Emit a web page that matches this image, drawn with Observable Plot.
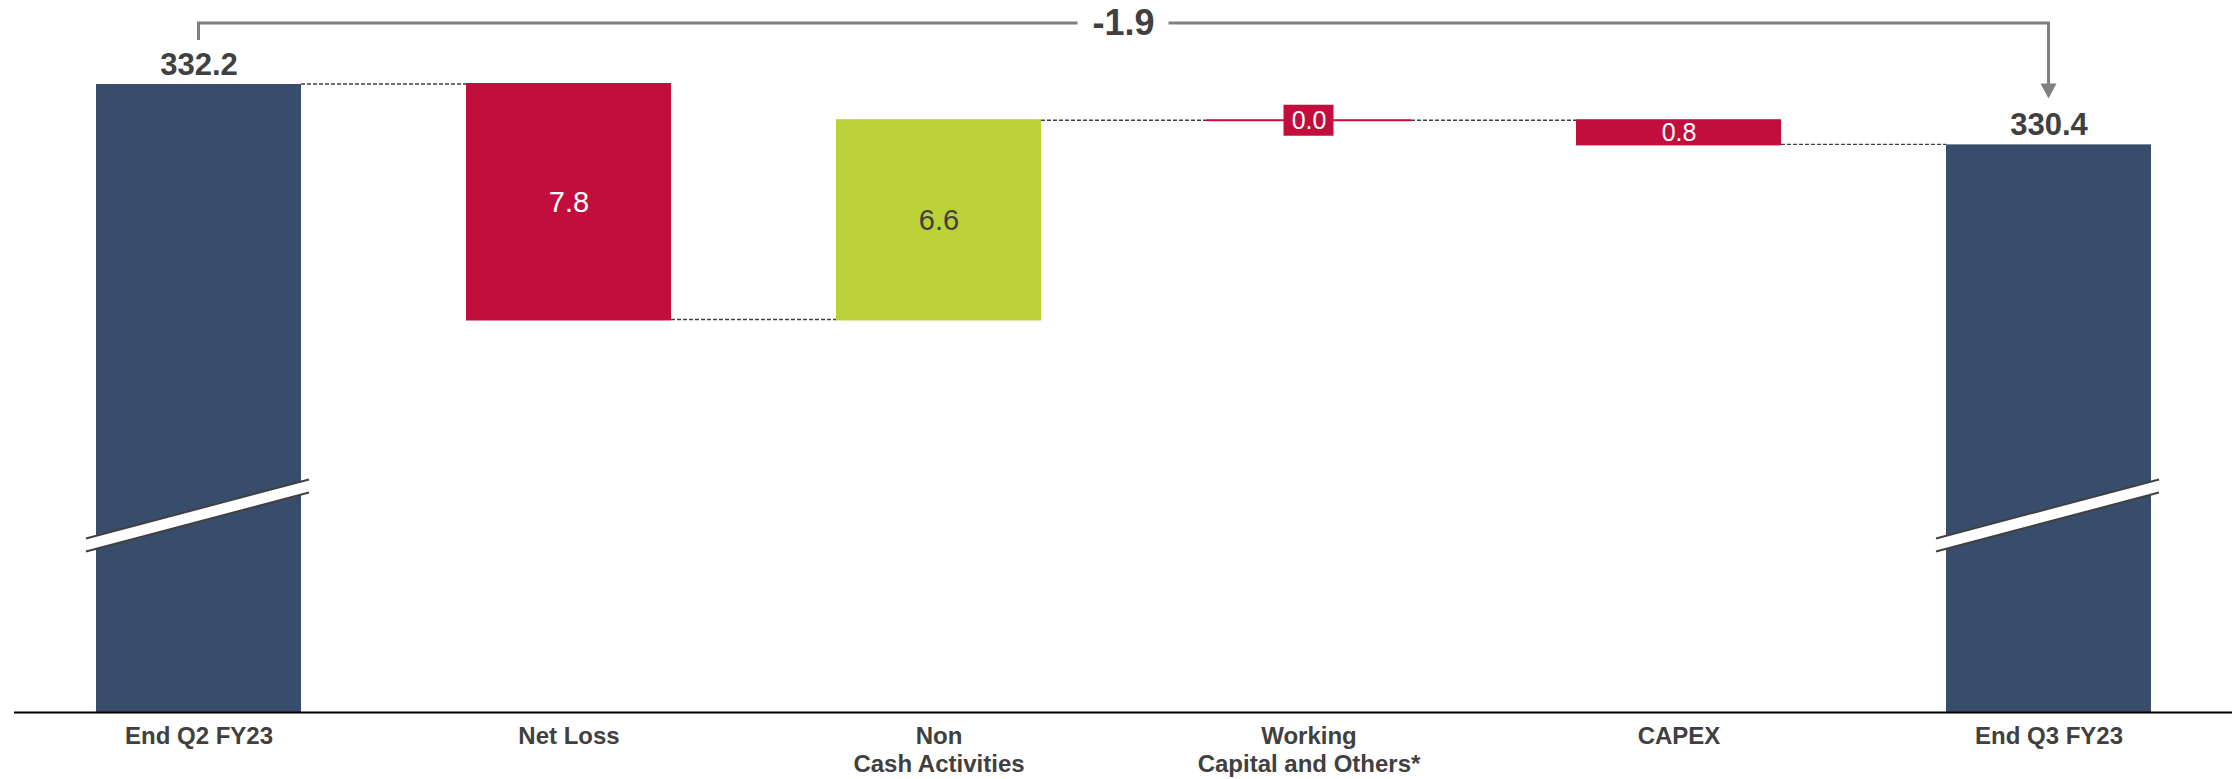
<!DOCTYPE html>
<html><head><meta charset="utf-8">
<script src="https://cdn.jsdelivr.net/npm/d3@7"></script>
<script src="https://cdn.jsdelivr.net/npm/@observablehq/plot@0.6"></script>
<style>html,body{margin:0;padding:0;background:#fff} svg{display:block}</style>
</head><body><div id="chart"></div>
<script>
// ---- data ----
const categories = ["End Q2 FY23", "Net Loss", "Non\nCash Activities", "Working\nCapital and Others*", "CAPEX", "End Q3 FY23"];
const startTotal = 332.2;
const endTotal = 330.4;
const changes = [-7.8, 6.6, 0.0, -0.8];
const netChange = -1.9;
const axisFloor = 311.4; // value at the broken axis baseline

// ---- build waterfall table ----
const FONT = "Liberation Sans, Arial, Helvetica, sans-serif";
const NAVY = "#384D6B", RED = "#C20E3D", GREEN = "#BCD037", TXT = "#404040";
let level = startTotal;
const rows = [{cat: categories[0], y1: axisFloor, y2: startTotal, kind: "total", label: startTotal.toFixed(1)}];
const connectors = [];
let prevCat = categories[0];
changes.forEach((d, i) => {
  const from = level;
  level = Math.round((level + d) * 100) / 100;
  connectors.push({a: prevCat, b: categories[i + 1], y: from});
  rows.push({cat: categories[i + 1], y1: from, y2: level, kind: d > 0 ? "up" : "down",
             label: Math.abs(d).toFixed(1), mid: (from + level) / 2, delta: d});
  prevCat = categories[i + 1];
});
connectors.push({a: prevCat, b: categories[5], y: level});
rows.push({cat: categories[5], y1: axisFloor, y2: level, kind: "total", label: endTotal.toFixed(1)});

const totals = rows.filter(r => r.kind === "total");
const steps = rows.filter(r => r.kind !== "total");

// ---- custom decorations using Plot's scales ----
function breaksMark(index, scales) {
  const {x, y} = scales, bw = x.bandwidth();
  const g = d3.create("svg:g");
  const fl = y(axisFloor);
  totals.forEach(r => {
    const x0 = x(r.cat) - 10, x1 = x(r.cat) + bw + 8;
    const yl = fl - 167, yr = fl - 226, h = 6.5;
    g.append("polygon")
      .attr("points", `${x0},${yl - h} ${x1},${yr - h} ${x1},${yr + h} ${x0},${yl + h}`)
      .attr("fill", "#fff");
    [-h, h].forEach(o => g.append("line")
      .attr("x1", x0).attr("y1", yl + o).attr("x2", x1).attr("y2", yr + o)
      .attr("stroke", "#404040").attr("stroke-width", 2));
  });
  return g.node();
}
function connectorsMark(index, scales) {
  const {x, y} = scales, bw = x.bandwidth();
  const g = d3.create("svg:g");
  connectors.forEach(c => {
    g.append("line")
      .attr("x1", x(c.a) + bw).attr("x2", x(c.b))
      .attr("y1", y(c.y)).attr("y2", y(c.y))
      .attr("stroke", "#404040").attr("stroke-width", 1.4).attr("stroke-dasharray", "4,2");
  });
  return g.node();
}
function labelBoxMark(index, scales) {
  const {x, y} = scales, bw = x.bandwidth();
  const g = d3.create("svg:g");
  steps.filter(r => Math.abs(r.delta) < 0.05).forEach(r => {
    const cx = x(r.cat) + bw / 2, cy = y(r.mid);
    g.append("rect").attr("x", cx - 25).attr("y", cy - 15.5).attr("width", 50).attr("height", 31).attr("fill", RED);
  });
  return g.node();
}
function bracketMark(index, scales) {
  const {x, y} = scales, bw = x.bandwidth();
  const g = d3.create("svg:g");
  const xa = x(categories[0]) + bw / 2, xb = x(categories[5]) + bw / 2;
  const yTop = 23, ya = y(startTotal) - 44, tip = y(level) - 46;
  const xm = (xa + xb) / 2;
  g.append("path")
    .attr("d", `M${xa},${ya}V${yTop}H${xm - 46}M${xm + 45},${yTop}H${xb}V${tip - 14}`)
    .attr("fill", "none").attr("stroke", "#808080").attr("stroke-width", 3);
  g.append("polygon")
    .attr("points", `${xb - 8},${tip - 15} ${xb + 8},${tip - 15} ${xb},${tip}`)
    .attr("fill", "#808080");
  g.append("text").attr("x", xm).attr("y", 35).attr("text-anchor", "middle")
    .attr("font-family", FONT).attr("font-weight", "bold").attr("font-size", 36)
    .attr("fill", TXT).text(netChange.toFixed(1));
  return g.node();
}

const chart = Plot.plot({
  width: 2232,
  height: 779,
  marginLeft: 14, marginRight: 0, marginTop: 0, marginBottom: 0,
  style: {fontFamily: FONT, background: "#fff"},
  x: {type: "band", domain: categories, range: [14, 2232], paddingInner: 0.446, paddingOuter: 0.219, axis: null},
  y: {domain: [axisFloor, startTotal], range: [712, 84], axis: null},
  marks: [
    Plot.barY(totals, {x: "cat", y1: "y1", y2: "y2", fill: NAVY}),
    Plot.barY(steps, {x: "cat", y1: "y1", y2: "y2", fill: d => d.kind === "up" ? GREEN : RED, insetTop: -1, insetBottom: -1}),
    breaksMark,
    connectorsMark,
    labelBoxMark,
    Plot.text(steps.filter(r => Math.abs(r.delta) >= 1), {x: "cat", y: "mid", text: "label", fontSize: 29,
      fontFamily: FONT, fill: d => d.kind === "up" ? TXT : "#fff"}),
    Plot.text(steps.filter(r => Math.abs(r.delta) < 1), {x: "cat", y: "mid", text: "label", fontSize: 25,
      fontFamily: FONT, fill: "#fff"}),
    Plot.text(totals, {x: "cat", y: "y2", text: "label", lineAnchor: "bottom", dy: -10, fontSize: 31,
      fontWeight: "bold", fontFamily: FONT, fill: TXT}),
    Plot.text(rows, {x: "cat", y: () => axisFloor, text: "cat", lineAnchor: "top", dy: 12, fontSize: 24,
      lineHeight: 1.15, fontWeight: "bold", fontFamily: FONT, fill: TXT}),
    bracketMark,
    Plot.ruleY([axisFloor], {stroke: "#000", strokeWidth: 2})
  ]
});
document.getElementById("chart").appendChild(chart);
</script>
</body></html>
